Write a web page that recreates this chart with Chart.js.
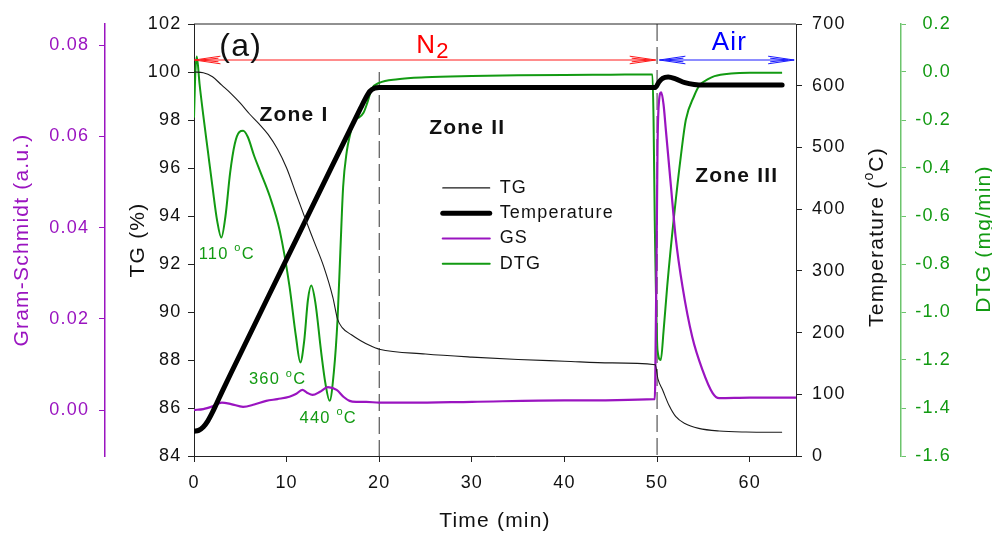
<!DOCTYPE html>
<html>
<head>
<meta charset="utf-8">
<title>TG / DTG / GS</title>
<script src="https://cdn.jsdelivr.net/npm/chart.js@4.4.1/dist/chart.umd.min.js"></script>
<style>
  html, body { margin: 0; padding: 0; background: #fff; }
  #wrap { width: 992px; height: 534px; }
</style>
</head>
<body>
<div id="wrap"><canvas id="tga" width="992" height="534"></canvas></div>
<script>
// TG (%) against time (min)
const tgTime = [0, 1, 2, 3, 4, 5, 6, 7, 8, 9, 10, 11, 12, 13, 14, 15, 15.5, 16, 17, 18, 19, 20, 25, 30, 35, 40, 45, 49.8, 50.1, 50.6, 51.3, 52, 53, 54.5, 56.7, 59.6, 63.5];
const tgValues = [100.0, 99.97, 99.8, 99.45, 99.1, 98.7, 98.25, 97.85, 97.4, 96.8, 96.0, 94.95, 93.9, 92.9, 91.9, 90.6, 89.7, 89.35, 89.05, 88.8, 88.6, 88.45, 88.25, 88.12, 88.02, 87.95, 87.88, 87.8, 87.2, 86.75, 86.1, 85.65, 85.35, 85.15, 85.04, 85.0, 84.99];

// furnace temperature (oC)
const tempTime = [0, 0.5, 1, 1.5, 2, 2.5, 3, 4, 10, 15, 18, 18.5, 19, 19.5, 20, 30, 40, 49.8, 50.2, 50.6, 51.2, 52, 53, 54, 55, 63.5];
const tempValues = [40, 41.5, 47, 57, 71, 87, 103, 134.5, 319, 472.5, 564, 579, 591, 596, 597, 597, 597, 597, 606, 612, 614, 611, 605, 602, 601, 601];

// Gram-Schmidt (a.u.)
const gsTime = [0, 1, 2, 3, 4, 5.3, 6.5, 7.8, 9, 10.3, 11, 11.7, 12.2, 12.8, 13.6, 14.45, 15.4, 16.2, 16.8, 17.5, 18.6, 20, 23.3, 30, 40, 49.75, 49.8, 49.95, 50.05, 50.2, 50.45, 50.7, 50.95, 51.5, 52, 52.75, 53.8, 54.9, 56, 56.7, 60, 65];
const gsValues = [0.0000, 0.0002, 0.0008, 0.0016, 0.0013, 0.0007, 0.0012, 0.0020, 0.0024, 0.0029, 0.0035, 0.0044, 0.0038, 0.0033, 0.0040, 0.0050, 0.0044, 0.0028, 0.0020, 0.0018, 0.0018, 0.0016, 0.0016, 0.0018, 0.0021, 0.0024, 0.0060, 0.0350, 0.0580, 0.0675, 0.0697, 0.0670, 0.0614, 0.0490, 0.0380, 0.0270, 0.0160, 0.0088, 0.0037, 0.0026, 0.0027, 0.0027];

// DTG (mg/min)
const dtgTime = [0, 0.15, 0.3, 0.6, 1.0, 1.5, 2.0, 2.5, 2.95, 3.4, 3.9, 4.4, 4.9, 5.3, 5.8, 6.5, 7.1, 8.2, 9.25, 10.3, 11.0, 11.48, 11.9, 12.3, 12.66, 13.1, 13.74, 14.2, 14.64, 15.1, 15.5, 15.8, 16.1, 16.5, 16.8, 17.3, 17.8, 18.3, 18.7, 19.2, 20, 22, 25, 30, 35, 40, 45, 49.5, 49.62, 49.75, 50.05, 50.4, 50.7, 51.1, 51.86, 52.6, 53.1, 54, 54.6, 55.5, 56.2, 58, 60, 63.5];
const dtgValues = [-0.19, 0.0, 0.065, -0.05, -0.18, -0.33, -0.48, -0.62, -0.69, -0.60, -0.42, -0.30, -0.25, -0.245, -0.27, -0.35, -0.41, -0.52, -0.66, -0.89, -1.10, -1.21, -1.12, -0.95, -0.89, -0.96, -1.17, -1.30, -1.37, -1.25, -1.03, -0.75, -0.48, -0.33, -0.27, -0.20, -0.19, -0.17, -0.13, -0.07, -0.045, -0.03, -0.022, -0.017, -0.014, -0.012, -0.011, -0.01, -0.2, -0.62, -1.16, -1.2, -1.08, -0.89, -0.59, -0.34, -0.2, -0.1, -0.055, -0.03, -0.017, -0.006, -0.003, -0.003];

// axis ticks
const timeTicks = { min: 0, max: 65, step: 10 };
const tgTicks = { min: 84, max: 102, step: 2 };
const tempTicks = { min: 0, max: 700, step: 100 };
const gsTicks = { min: -0.01009, max: 0.08468, step: 0.02 };
const dtgTicks = { min: -1.6, max: 0.2, step: 0.2 };

// peak labels: time, TG-axis height, temperature text
const peakLabels = [
  [3.53, 92.4, '110 '],
  [9.03, 87.17, '360 '],
  [14.5, 85.58, '440 ']
];
const zoneLabels = [
  [10.8, 98.2, 'Zone I'],
  [29.5, 97.67, 'Zone II'],
  [58.6, 95.64, 'Zone III']
];

const purple = '#9a14c0';
const green = '#129a12';
const lightGreen = '#6cc46c';

Chart.defaults.font.family = 'Arial, "Liberation Sans", sans-serif';
Chart.defaults.font.size = 18;
Chart.defaults.color = '#111';

function pts(xs, ys) {
  return xs.map((x, i) => ({ x: x, y: ys[i] }));
}

// text made of pieces, for superscripts / subscripts
function drawParts(ctx, parts, x, y, align) {
  let total = 0;
  parts.forEach(p => {
    ctx.font = (p.bold ? 'bold ' : '') + p.size + 'px Arial, "Liberation Sans", sans-serif';
    p.w = ctx.measureText(p.t).width;
    total += p.w;
  });
  let cx = align === 'center' ? x - total / 2 : x;
  ctx.textAlign = 'left';
  ctx.textBaseline = 'middle';
  parts.forEach(p => {
    ctx.font = (p.bold ? 'bold ' : '') + p.size + 'px Arial, "Liberation Sans", sans-serif';
    ctx.fillText(p.t, cx, y + (p.dy || 0));
    cx += p.w;
  });
}

function arrowHead(ctx, x, y, dir) {
  const L = 26;
  ctx.beginPath();
  ctx.moveTo(x - dir * L, y - 3.8); ctx.lineTo(x, y); ctx.lineTo(x - dir * L, y + 3.8);
  ctx.moveTo(x - dir * (L - 2), y - 1.8); ctx.lineTo(x - dir * 6, y); ctx.lineTo(x - dir * (L - 2), y + 1.8);
  ctx.stroke();
}

function arrow(ctx, x0, x1, y, color) {
  ctx.strokeStyle = color;
  ctx.lineWidth = 1;
  ctx.beginPath();
  ctx.moveTo(x0, y); ctx.lineTo(x1, y);
  ctx.stroke();
  arrowHead(ctx, x0, y, -1);
  arrowHead(ctx, x1, y, 1);
}

const spacing = {
  id: 'spacing',
  beforeUpdate(chart) { chart.ctx.letterSpacing = '1.2px'; },
  beforeDraw(chart) { chart.ctx.letterSpacing = '1.2px'; }
};

const decor = {
  id: 'decor',
  beforeDatasetsDraw(chart) {
    const { ctx, chartArea: a, scales: s } = chart;
    ctx.save();
    ctx.strokeStyle = '#333';
    ctx.lineWidth = 1;
    ctx.setLineDash([17, 6]);
    let x = s.x.getPixelForValue(20);
    ctx.beginPath();
    ctx.moveTo(x, s.yTG.getPixelForValue(100)); ctx.lineTo(x, a.bottom);
    ctx.stroke();
    x = s.x.getPixelForValue(50);
    ctx.beginPath();
    ctx.moveTo(x, a.top); ctx.lineTo(x, a.bottom);
    ctx.stroke();
    ctx.restore();
  },
  afterDatasetsDraw(chart) {
    const { ctx, chartArea: a, scales: s } = chart;
    const X = v => s.x.getPixelForValue(v);
    const Y = v => s.yTG.getPixelForValue(v);
    ctx.save();

    // top frame
    ctx.strokeStyle = '#222';
    ctx.lineWidth = 1;
    ctx.beginPath();
    ctx.moveTo(a.left, a.top); ctx.lineTo(a.right, a.top);
    ctx.stroke();

    // gas arrows
    arrow(ctx, X(0.05), X(49.85), Y(100.5), '#ff1a1a');
    arrow(ctx, X(50.25), X(64.8), Y(100.5), '#1a1aff');

    ctx.fillStyle = '#111';
    drawParts(ctx, [{ t: '(a)', size: 32 }], X(5.04), Y(101.04), 'center');
    ctx.fillStyle = '#ff0000';
    drawParts(ctx, [{ t: 'N', size: 26 }, { t: '2', size: 22, dy: 6 }], X(25.8), Y(101.1), 'center');
    ctx.fillStyle = '#0000ff';
    drawParts(ctx, [{ t: 'Air', size: 26 }], X(57.8), Y(101.2), 'center');

    ctx.fillStyle = '#111';
    zoneLabels.forEach(z => drawParts(ctx, [{ t: z[2], size: 21, bold: true }], X(z[0]), Y(z[1]), 'center'));

    ctx.fillStyle = green;
    peakLabels.forEach(p => drawParts(ctx, [
      { t: p[2], size: 16.5 }, { t: 'o', size: 11, dy: -6 }, { t: 'C', size: 16.5 }
    ], X(p[0]), Y(p[1]), 'center'));

    // legend
    const lx0 = X(26.86), lx1 = X(31.93), tx = X(33.0);
    chart.data.datasets.forEach((d, i) => {
      const ly = Y(95.17) + i * 25.3;
      ctx.strokeStyle = d.borderColor;
      ctx.lineWidth = d.borderWidth;
      ctx.lineCap = 'round';
      ctx.beginPath();
      ctx.moveTo(lx0, ly); ctx.lineTo(lx1, ly);
      ctx.stroke();
      ctx.fillStyle = '#111';
      drawParts(ctx, [{ t: d.label, size: 18 }], tx, ly, 'left');
    });

    // right-hand axis titles
    ctx.translate(877, 237);
    ctx.rotate(-Math.PI / 2);
    ctx.fillStyle = '#111';
    drawParts(ctx, [{ t: 'Temperature (', size: 21 }, { t: 'o', size: 14, dy: -8 }, { t: 'C)', size: 21 }], 0, 0, 'center');
    ctx.setTransform(1, 0, 0, 1, 0, 0);
    ctx.translate(984.5, 239);
    ctx.rotate(-Math.PI / 2);
    ctx.fillStyle = green;
    drawParts(ctx, [{ t: 'DTG (mg/min)', size: 21 }], 0, 0, 'center');
    ctx.restore();
  }
};

const lineStyle = { pointRadius: 0, cubicInterpolationMode: 'monotone', fill: false };

new Chart(document.getElementById('tga'), {
  type: 'line',
  data: {
    datasets: [
      Object.assign({ label: 'TG', data: pts(tgTime, tgValues), yAxisID: 'yTG', borderColor: '#1a1a1a', borderWidth: 1.1 }, lineStyle),
      Object.assign({ label: 'Temperature', data: pts(tempTime, tempValues), yAxisID: 'yTemp', borderColor: '#000', borderWidth: 5, borderCapStyle: 'round' }, lineStyle),
      Object.assign({ label: 'GS', data: pts(gsTime, gsValues), yAxisID: 'yGS', borderColor: purple, borderWidth: 2.2 }, lineStyle),
      Object.assign({ label: 'DTG', data: pts(dtgTime, dtgValues), yAxisID: 'yDTG', borderColor: green, borderWidth: 2 }, lineStyle)
    ]
  },
  options: {
    responsive: false,
    animation: false,
    layout: { padding: { top: 24, right: 41, bottom: 0, left: 0 } },
    plugins: { legend: { display: false }, tooltip: { enabled: false } },
    scales: {
      x: {
        type: 'linear', position: 'bottom',
        min: timeTicks.min, max: timeTicks.max,
        ticks: { stepSize: timeTicks.step, includeBounds: false, autoSkip: false, maxRotation: 0, padding: 10, color: '#111' },
        grid: { drawOnChartArea: false, tickLength: 6, color: '#222' },
        border: { color: '#222' },
        title: { display: true, text: 'Time (min)', font: { size: 21 }, color: '#111', padding: { top: 0, bottom: 0 } },
        afterFit: sc => { sc.height = 78; }
      },
      yTG: {
        position: 'left', weight: 0,
        min: tgTicks.min, max: tgTicks.max,
        ticks: { stepSize: tgTicks.step, padding: 6.5, color: '#111' },
        grid: { drawOnChartArea: false, tickLength: 6, color: '#222' },
        border: { color: '#222' },
        title: { display: true, text: 'TG (%)', font: { size: 21 }, color: '#111', padding: { top: 20.4, bottom: 0 } },
        afterFit: sc => { sc.width = 89; }
      },
      yGS: {
        position: 'left', weight: 1,
        min: gsTicks.min, max: gsTicks.max,
        ticks: { stepSize: gsTicks.step, includeBounds: false, padding: 9.8, color: purple, callback: v => v.toFixed(2) },
        grid: { drawOnChartArea: false, tickLength: 6, color: purple },
        border: { color: purple, width: 1.5 },
        title: { display: true, text: 'Gram-Schmidt (a.u.)', font: { size: 21 }, color: purple, padding: { top: 9.4, bottom: 0 } },
        afterFit: sc => { sc.width = 105; }
      },
      yTemp: {
        position: 'right', weight: 0,
        min: tempTicks.min, max: tempTicks.max,
        ticks: { stepSize: tempTicks.step, padding: 10, color: '#111' },
        grid: { drawOnChartArea: false, tickLength: 6, color: '#222' },
        border: { color: '#222' },
        afterFit: sc => { sc.width = 105; }
      },
      yDTG: {
        position: 'right', weight: 1,
        min: dtgTicks.min, max: dtgTicks.max,
        ticks: { stepSize: dtgTicks.step, includeBounds: false, crossAlign: 'far', color: green, callback: v => v.toFixed(1) },
        grid: { drawOnChartArea: false, tickLength: 5, color: lightGreen },
        border: { color: lightGreen, width: 1.5 },
        afterFit: sc => { sc.width = 50; }
      }
    }
  },
  plugins: [spacing, decor]
});
</script>
</body>
</html>
